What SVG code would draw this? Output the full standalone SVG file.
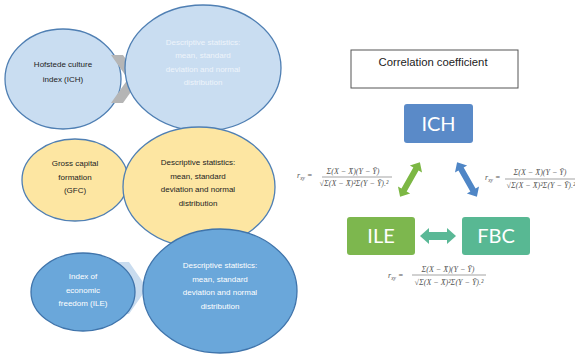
<svg xmlns="http://www.w3.org/2000/svg" width="575" height="355" viewBox="0 0 575 355">
<style>
.lt{fill:#c9ddf1;stroke:#4f7fb3;stroke-width:1.3}
.yl{fill:#fde6a2;stroke:#4f7fb3;stroke-width:1.3}
.bl{fill:#6aa7da;stroke:#3f74ab;stroke-width:1.3}
.t{font-family:"Liberation Sans",Arial,sans-serif;font-size:8px;text-anchor:middle}
.dk{fill:#222}
.wh{fill:#fff}
.pale{fill:#eef4fb}
.box{font-family:Lato,"Open Sans",sans-serif;font-size:20px;fill:#fff;text-anchor:middle}
.f{font-family:"Liberation Serif","DejaVu Serif",serif;font-style:italic;font-size:8px;fill:#555}
.fm{text-anchor:middle}
.fl{stroke:#666;stroke-width:0.6}
</style>
<defs>
<polygon id="dbl" points="-20,0 -12,-7 -12,-3 12,-3 12,-7 20,0 12,7 12,3 -12,3 -12,7"/>
</defs>
<rect width="575" height="355" fill="#fff"/>

<g id="row1">
  <g id="ich-small">
    <ellipse class="lt" cx="63" cy="79" rx="58" ry="50"/>
    <text class="t dk" x="63" y="67">Hofstede culture</text>
    <text class="t dk" x="63" y="82">index (ICH)</text>
  </g>
</g>
<g id="connectors">
  <polygon points="111,55 123,55 140,79 123,103 111,103 128,79" fill="#b5b5b5"/>
  <polygon points="117,262 129,262 147,288 129,314 117,314 135,288" fill="#c9dcef"/>
  <use href="#dbl" fill="#7cb744" transform="translate(410,179.5) rotate(-60.3)"/>
  <use href="#dbl" fill="#4f86c6" transform="translate(467,179.5) rotate(60.3)"/>
  <polygon points="420,236 429,228 429,232 447,232 447,228 456,236 447,244 447,240 429,240 429,244" fill="#5ab896"/>
</g>
<g id="ich-desc">
  <ellipse class="lt" cx="203" cy="68" rx="78" ry="63"/>
  <text class="t pale" x="203" y="45">Descriptive statistics:</text>
  <text class="t pale" x="203" y="58">mean, standard</text>
  <text class="t pale" x="203" y="72">deviation and normal</text>
  <text class="t pale" x="203" y="85">distribution</text>
</g>
<g id="gfc-small">
  <ellipse class="yl" cx="75" cy="180" rx="53" ry="41"/>
  <text class="t dk" x="75" y="166">Gross capital</text>
  <text class="t dk" x="75" y="180">formation</text>
  <text class="t dk" x="75" y="193">(GFC)</text>
</g>
<g id="gfc-desc">
  <ellipse class="yl" cx="199" cy="187" rx="76" ry="60"/>
  <text class="t dk" x="198" y="165">Descriptive statistics:</text>
  <text class="t dk" x="198" y="179">mean, standard</text>
  <text class="t dk" x="198" y="192">deviation and normal</text>
  <text class="t dk" x="198" y="206">distribution</text>
</g>
<g id="ile-small">
  <ellipse class="bl" cx="83" cy="292" rx="52" ry="39"/>
  <text class="t wh" x="83" y="279">Index of</text>
  <text class="t wh" x="83" y="293">economic</text>
  <text class="t wh" x="83" y="306">freedom (ILE)</text>
</g>
<g id="ile-desc">
  <ellipse class="bl" cx="220" cy="291" rx="77" ry="62"/>
  <text class="t wh" x="220" y="268">Descriptive statistics:</text>
  <text class="t wh" x="220" y="282">mean, standard</text>
  <text class="t wh" x="220" y="295">deviation and normal</text>
  <text class="t wh" x="220" y="309">distribution</text>
</g>

<g id="title">
  <rect x="351" y="50" width="167" height="38" fill="#fff" stroke="#555" stroke-width="1"/>
  <text x="433" y="66" font-family="Liberation Sans,Arial,sans-serif" font-size="11.3" fill="#222" text-anchor="middle">Correlation coefficient</text>
</g>
<g id="ich">
  <rect x="404" y="104" width="69" height="39" rx="3" fill="#5a8ac8"/>
  <text class="box" x="438.5" y="131">ICH</text>
</g>
<g id="ile">
  <rect x="347" y="217" width="68" height="38" rx="3" fill="#7db74e"/>
  <text class="box" x="381" y="243">ILE</text>
</g>
<g id="fbc">
  <rect x="462" y="217" width="68" height="38" rx="3" fill="#58b893"/>
  <text class="box" x="496" y="243">FBC</text>
</g>

<g id="formula-left">
  <text class="f" x="297" y="178">r<tspan font-size="5.5" dy="1.5">xy</tspan><tspan dy="-1.5"> =</tspan></text>
  <text class="f fm" x="353" y="174">Σ(X − X̄)(Y − Ȳ)</text>
  <line class="fl" x1="322" y1="177" x2="392" y2="177"/>
  <text class="f fm" x="354" y="186">√Σ(X − X̄)²Σ(Y − Ȳ).²</text>
</g>
<g id="formula-right">
  <text class="f" x="485" y="180">r<tspan font-size="5.5" dy="1.5">xy</tspan><tspan dy="-1.5"> =</tspan></text>
  <text class="f fm" x="540" y="175">Σ(X − X̄)(Y − Ȳ)</text>
  <line class="fl" x1="505" y1="179" x2="575" y2="179"/>
  <text class="f fm" x="541" y="188">√Σ(X − X̄)²Σ(Y − Ȳ).²</text>
</g>
<g id="formula-bottom">
  <text class="f" x="388" y="278">r<tspan font-size="5.5" dy="1.5">xy</tspan><tspan dy="-1.5"> =</tspan></text>
  <text class="f fm" x="448" y="272">Σ(X − X̄)(Y − Ȳ)</text>
  <line class="fl" x1="412" y1="275" x2="486" y2="275"/>
  <text class="f fm" x="449" y="285">√Σ(X − X̄)²Σ(Y − Ȳ).²</text>
</g>
</svg>
